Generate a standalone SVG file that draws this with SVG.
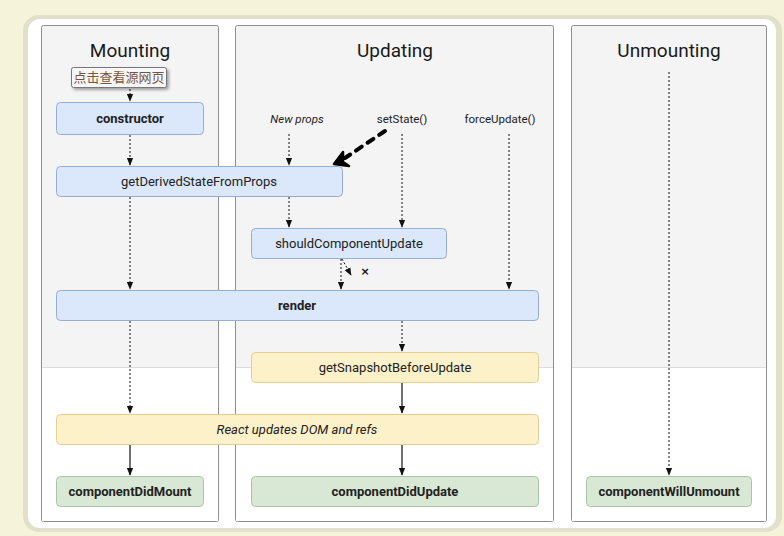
<svg xmlns="http://www.w3.org/2000/svg" width="784" height="536" viewBox="0 0 784 536">
<defs>
<marker id="arr" viewBox="0 0 10 10" refX="9" refY="5" markerWidth="8" markerHeight="8" markerUnits="userSpaceOnUse" orient="auto">
<path d="M0,1 L10,5 L0,9 Z" fill="#111"/>
</marker>
<filter id="sh" x="-10%" y="-20%" width="130%" height="160%">
<feDropShadow dx="2" dy="2" stdDeviation="1.5" flood-color="#000" flood-opacity="0.35"/>
</filter>
</defs>
<style>
.col{fill:#f4f4f4;stroke:#8e8e8e;stroke-width:1}
.low{fill:#ffffff}
.title{font-family:Roboto,"Liberation Sans",sans-serif;font-size:19px;fill:#1a1a1a;text-anchor:middle}
.blue{fill:#dbe7fa;stroke:#95aed6;stroke-width:1}
.yel{fill:#fdf1ca;stroke:#e2cf95;stroke-width:1}
.grn{fill:#d8e8d4;stroke:#a8c6a2;stroke-width:1}
.t{font-family:Roboto,"Liberation Sans",sans-serif;font-size:13px;fill:#222;text-anchor:middle}
.b{font-weight:bold}
.i{font-style:italic}
.lbl{font-family:Roboto,"Liberation Sans",sans-serif;font-size:11.5px;fill:#222;text-anchor:middle}
.dash{stroke:#111;stroke-width:1;stroke-dasharray:2 2;fill:none}
.solid{stroke:#111;stroke-width:1.2;fill:none}
</style>
<rect x="0" y="0" width="784" height="536" fill="#f5f3d9"/>
<rect x="23" y="15" width="759" height="517" rx="16" fill="#e1e0ca"/>
<rect x="28" y="19" width="748" height="509" rx="12" fill="#ffffff"/>

<g id="col-mounting">
<rect class="col" x="41.5" y="25.5" width="177" height="496" rx="2"/>
<rect class="low" x="42" y="368" width="176" height="153"/>
<line x1="42" y1="367.5" x2="218" y2="367.5" stroke="#dcdcdc"/>
<text class="title" x="130" y="57">Mounting</text>
</g>
<g id="col-updating">
<rect class="col" x="235.5" y="25.5" width="318" height="496" rx="2"/>
<rect class="low" x="236" y="368" width="317" height="153"/>
<line x1="236" y1="367.5" x2="553" y2="367.5" stroke="#dcdcdc"/>
<text class="title" x="395" y="57">Updating</text>
</g>
<g id="col-unmounting">
<rect class="col" x="571.5" y="25.5" width="195" height="496" rx="2"/>
<rect class="low" x="572" y="368" width="194" height="153"/>
<line x1="572" y1="367.5" x2="766" y2="367.5" stroke="#dcdcdc"/>
<text class="title" x="669" y="57">Unmounting</text>
</g>

<g id="connectors">
<line class="dash" x1="130" y1="89" x2="130" y2="101" marker-end="url(#arr)"/>
<line class="dash" x1="130" y1="135" x2="130" y2="165" marker-end="url(#arr)"/>
<line class="dash" x1="130" y1="197" x2="130" y2="289" marker-end="url(#arr)"/>
<line class="dash" x1="130" y1="321" x2="130" y2="413" marker-end="url(#arr)"/>
<line class="solid" x1="130" y1="445" x2="130" y2="475" marker-end="url(#arr)"/>
<line class="dash" x1="289" y1="134" x2="289" y2="165" marker-end="url(#arr)"/>
<line class="dash" x1="289" y1="197" x2="289" y2="227" marker-end="url(#arr)"/>
<line class="dash" x1="402" y1="134" x2="402" y2="227" marker-end="url(#arr)"/>
<line class="dash" x1="509" y1="134" x2="509" y2="289" marker-end="url(#arr)"/>
<line class="dash" x1="341" y1="259" x2="341" y2="289" marker-end="url(#arr)"/>
<line class="dash" x1="342" y1="259" x2="351" y2="275" marker-end="url(#arr)"/>
<line class="dash" x1="402" y1="321" x2="402" y2="351" marker-end="url(#arr)"/>
<line class="solid" x1="402" y1="383" x2="402" y2="413" marker-end="url(#arr)"/>
<line class="solid" x1="402" y1="445" x2="402" y2="475" marker-end="url(#arr)"/>
<line class="dash" x1="669" y1="72" x2="669" y2="475" marker-end="url(#arr)"/>
<path d="M385,131 L345,158" stroke="#000" stroke-width="4" stroke-linecap="round" stroke-dasharray="7 7" fill="none"/>
<path d="M343,152 L334,164 L349,166 L343,162 Z" fill="#000" stroke="#000" stroke-width="2.5" stroke-linejoin="round"/>
</g>

<g id="labels">
<text class="lbl i" x="297" y="123">New props</text>
<text class="lbl" x="402" y="123">setState()</text>
<text class="lbl" x="500" y="123">forceUpdate()</text>
<text x="365" y="275" font-family="'DejaVu Sans',sans-serif" font-size="11" font-weight="bold" fill="#111" text-anchor="middle">×</text>
</g>

<g id="tooltip">
<rect x="71.5" y="67.5" width="95" height="20" rx="2" fill="#f7f7fb" stroke="#777" filter="url(#sh)"/>
<text x="119" y="82" font-family="'Noto Sans CJK SC',sans-serif" font-size="13" fill="#7a5636" text-anchor="middle">点击查看源网页</text>
</g>

<g id="n-constructor"><rect class="blue" x="56.5" y="102.5" width="147" height="32" rx="4"/><text class="t b" x="130" y="123">constructor</text></g>
<g id="n-gdsfp"><rect class="blue" x="56.5" y="166.5" width="286" height="30" rx="4"/><text class="t" x="199" y="186">getDerivedStateFromProps</text></g>
<g id="n-scu"><rect class="blue" x="251.5" y="228.5" width="195" height="30" rx="4"/><text class="t" x="349" y="248">shouldComponentUpdate</text></g>
<g id="n-render"><rect class="blue" x="56.5" y="290.5" width="482" height="30" rx="4"/><text class="t b" x="297" y="310">render</text></g>
<g id="n-gsbu"><rect class="yel" x="251.5" y="352.5" width="287" height="30" rx="4"/><text class="t" x="395" y="372">getSnapshotBeforeUpdate</text></g>
<g id="n-dom"><rect class="yel" x="56.5" y="414.5" width="482" height="30" rx="4"/><text class="t i" x="297" y="434">React updates DOM and refs</text></g>
<g id="n-cdm"><rect class="grn" x="56.5" y="476.5" width="147" height="30" rx="4"/><text class="t b" x="130" y="496">componentDidMount</text></g>
<g id="n-cdu"><rect class="grn" x="251.5" y="476.5" width="287" height="30" rx="4"/><text class="t b" x="395" y="496">componentDidUpdate</text></g>
<g id="n-cwu"><rect class="grn" x="586.5" y="476.5" width="165" height="30" rx="4"/><text class="t b" x="669" y="496">componentWillUnmount</text></g>
</svg>
